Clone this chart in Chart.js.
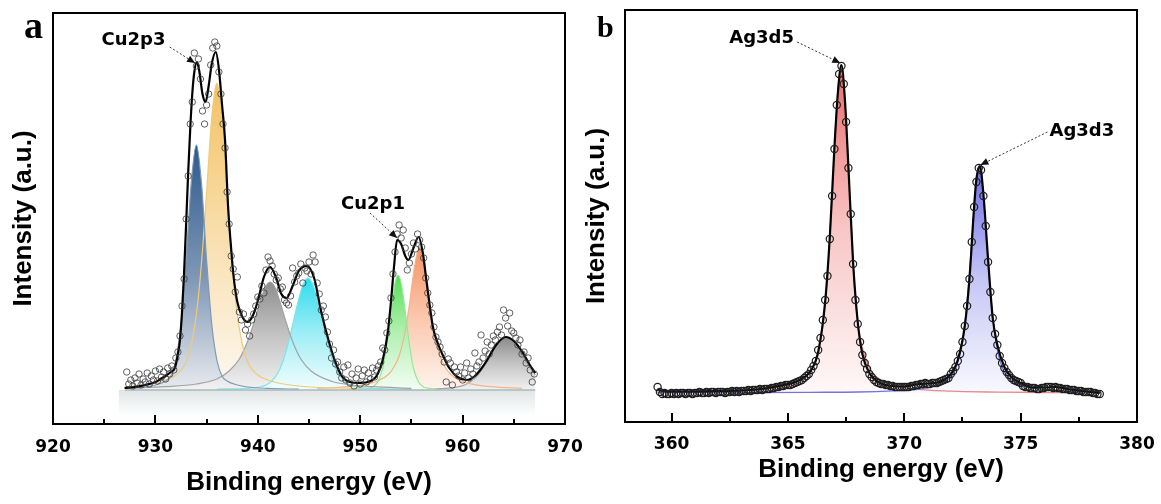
<!DOCTYPE html>
<html><head><meta charset="utf-8">
<script src="https://cdn.jsdelivr.net/npm/chart.js@4.4.1/dist/chart.umd.min.js"></script>
<style>
html,body{margin:0;padding:0;background:#fff;width:1161px;height:504px;overflow:hidden;}
#ca{position:absolute;left:0;top:0;}
#cb{position:absolute;left:580px;top:0;}
</style></head><body>
<canvas id="ca" width="600" height="504"></canvas>
<canvas id="cb" width="581" height="504"></canvas>
<script>
// ================= Panel a : Cu 2p =================
const aTicks = [920, 930, 940, 950, 960, 970];
const aMinorTicks = [925, 935, 945, 955, 965];
const aBaseline = 34;
const aBandFloor = 8;
const aBandE = [926.4, 967.1];
const aBaseE = [927.0, 967.1];
const aScanStart = 927.2, aScanStep = 0.2;
const aCounts = [
 52,40,44,38,46, 41,50,39,45,42, 51,40,48,44,53, 43,55,47,52,45,
 56,50,58,54,66, 72,88,118,145,205, 248,300,322,371,358, 365,345,313,300,319,
 330,359,376,382,378, 352,330,300,276,232, 200,168,155,132,147, 112,104,110,94,100,
 88,104,110,118,127, 125,138,131,154,167, 163,158,150,144,146, 135,137,124,121,119,
 128,156,142,148,151, 160,141,156,153,162, 150,169,162,141,130, 114,118,107,92,80,
 66,74,60,62,52, 46,57,44,59,41, 50,38,46,55,40, 48,54,42,51,45,
 56,47,54,58,62, 76,74,91,103,126, 150,172,190,199,186, 194,176,154,161,170,
 181,175,190,184,177, 166,146,131,119,111, 97,87,82,77,70, 62,42,65,61,39,
 57,52,48,57,44, 51,61,46,55,50, 71,58,62,89,66, 73,82,70,79,88,
 84,92,97,89,114, 106,98,111,93,91, 86,79,84,70,72, 61,66,54,42,50
];
const aFitE = [927.0,928.0,929.0,930.0,930.5,931.0,931.5,931.9,932.2,932.4,932.6,932.8,933.0,933.2,933.4,933.6,933.8,934.05,934.3,934.6,934.9,935.2,935.5,935.9,936.2,936.5,936.8,937.1,937.4,937.6,938.0,938.5,939.0,939.5,940.0,940.6,941.2,941.8,942.3,942.8,943.4,944.0,944.8,945.5,946.2,946.9,947.5,948.2,949.0,950.0,951.0,951.6,952.2,952.7,953.0,953.3,953.6,954.0,954.4,954.7,955.2,955.7,956.1,956.5,957.1,957.6,958.1,958.7,959.5,960.4,961.2,961.8,962.4,963.2,964.2,965.0,965.9,966.5,967.1];
const aFitV = [36,37,39,42,45,48,52,56,70,84,112,151,200,251,295,330,352,362,352,330,322,338,360,372,355,320,284,217,175,151,122,107,102,108,123,147,157,146,130,126,138,153,158,146,112,84,64,48,42,41,43,48,64,92,122,157,184,180,168,164,176,187,172,141,97,80,68,56,47,44,48,55,64,78,87,83,71,60,51];
const aBlueE = [927,929,930,931,931.5,932,932.5,933,933.5,934,934.5,935,935.5,936,936.5,937,938,939,941,944];
const aBlueV = [35.6,37,39,43,48,64,100,164,241,279,241,164,100,64,48,43,39,37,35.6,34.8];
const aYellowE = [927,928,930,931,932,933,933.5,934,934.5,935,935.5,936,936.5,937,937.5,938,938.5,939,940,941,942,944,946,948,950];
const aYellowV = [37,38,41,44,49,62,79,109,161,232,306,341,306,232,161,109,79,62,49,44,41,38,36.5,36,35.3];
const aGray1E = [927,931,934,936,937.2,938.2,939.2,939.7,940.2,940.7,941.2,941.7,942.2,942.7,943.2,943.7,944.2,945.2,947.2,949.2,951.2,955];
const aGray1V = [35.7,37.3,40,45,53,65,88,104,121,136,142,136,121,104,88,75,65,53,42.7,39,37.3,35.7];
const aCyanE = [936,939,940.9,941.9,942.4,942.9,943.4,943.9,944.4,944.9,945.4,945.9,946.4,946.9,947.4,947.9,948.9,949.9,952,955];
const aCyanV = [35,35.7,39.4,50,61,78,99,121,139,146,139,121,99,78,61,50,39.4,36.6,35.3,34.6];
const aGreenE = [949.7,950.7,951.2,951.7,952.2,952.45,952.7,952.95,953.2,953.45,953.7,953.95,954.2,954.45,954.7,954.95,955.2,955.7,956.2,956.7,957.7];
const aGreenV = [35,35.7,37,42,56,70,87.5,108,128,143,149,143,128,108,87.5,70,56,42,37,35.7,35];
const aOrangeE = [945.8,948.8,950.8,951.8,952.8,953.3,953.8,954.3,954.8,955.3,955.8,956.3,956.8,957.3,957.8,958.3,958.8,959.8,960.8,962.8,965.8];
const aOrangeV = [35.6,37.3,40.2,43.5,50,57,68,88,119,157,177,157,119,88,68,57,50,43.5,40.2,37.3,35.6];
const aGray2E = [957.3,958.3,959.3,960.3,961.3,961.8,962.3,962.8,963.3,963.8,964.3,964.8,965.3,965.8,966.3,966.8,967.1];
const aGray2V = [35.2,35.6,36.7,39.5,46.7,53,60.5,69,78,84.5,87,84.5,78,69,60.5,53,49];
const aNotes = [
  {text:'Cu2p3', tx:927.86, ty:384, sx:931.4, sy:377, ex:933.87, ey:361},
  {text:'Cu2p1', tx:951.25, ty:219.5, sx:950.96, sy:211, ex:953.6, ey:186}
];

// ================= Panel b : Ag 3d =================
const bTicks = [360, 365, 370, 375, 380];
const bMinorTicks = [362.5, 367.5, 372.5, 377.5];
const bBaseline = 29;
const bScanStart = 359.4, bScanStep = 0.1;
const bCounts = [
 35,30,28,29,28,28,29,
 28,29,28,29,29,28,29,29,28,29,
 29,30,29,29,30,29,30,30,29,30,
 30,30,29,30,30,31,30,31,30,31,
 31,31,32,31,32,32,32,33,32,33,
 33,33,34,34,35,35,36,36,37,37,
 37,38,39,40,41,42,44,46,48,52,
 56,61,72,84,102,122,146,183,226,273,
 317,348,356,338,300,254,208,158,122,98,
 80,67,59,53,48,45,42,40,39,38,
 38,37,37,36,36,35,35,35,35,35,
 35,35,36,36,37,37,38,38,39,38,
 38,39,39,39,40,41,42,43,44,48,
 51,55,61,68,80,96,116,143,180,215,
 240,254,252,226,196,160,130,104,88,77,
 66,59,54,50,47,44,42,41,40,39,
 36,35,35,34,34,34,33,33,34,34,
 35,35,35,34,35,34,34,33,33,33,
 32,32,32,31,31,31,30,30,30,30,
 29,29,28,28
];
const bFitE = [359.4,360,361,362,363,364,364.5,365,365.5,366,366.3,366.6,366.8,367,367.15,367.3,367.45,367.6,367.8,368,368.2,368.5,369,369.5,370,370.5,371,371.5,372,372.3,372.6,372.8,373,373.1,373.25,373.4,373.6,373.8,374,374.3,374.6,375,375.5,376,376.5,377,377.5,378,378.4];
const bFitV = [32,30.5,30.5,31,31.5,33.5,35.5,38,42,52,70,120,185,275,330,357,322,255,160,100,68,49,38.5,36,35.5,37.5,38.5,40,48,62,96,143,215,243,256,228,163,104,77,55,45,39,34.5,34.5,35,33,31.5,30,29];
const bAg5E = [359.4,361,362.5,364,365,365.5,366,366.3,366.5,366.7,366.9,367.1,367.28,367.45,367.65,367.85,368.05,368.3,368.6,369,369.5,370.5,372,374,376,378.4];
const bAg5V = [29.6,30,30.7,32.7,36.6,41,52,69,96,146,226,317,357,321,230,139,91,66,50,42,37,32.8,30.8,29.9,29.5,29.3];
const bAg3E = [359.4,363,366,368,369.5,370.5,371.3,371.8,372.2,372.5,372.7,372.9,373.05,373.22,373.4,373.55,373.75,373.95,374.2,374.5,375,375.8,377,378.4];
const bAg3V = [29.3,29.4,29.7,30,31.1,32.5,35.8,41.2,53,80,120,179,229,255,224,175,118,79,55,44,37,32.9,30.9,30];
const bNotes = [
  {text:'Ag3d5', tx:363.87, ty:383.5, sx:365.4, sy:380, ex:367.25, ey:359},
  {text:'Ag3d3', tx:377.63, ty:291, sx:376.15, sy:290, ex:373.27, ey:257}
];

// ================= helpers =================
const P = (xs, ys) => xs.map((x, i) => ({x: x, y: ys[i]}));
const scan = (start, step, vals) => vals.map((v, i) => ({x: +(start + i * step).toFixed(2), y: v}));

function grad(stops, base) {
  return (c) => {
    const ch = c.chart, area = ch.chartArea;
    if (!area || !c.dataset || !ch.scales.y) return stops[0][1];
    const ys = ch.scales.y;
    const top = ys.getPixelForValue(Math.max(...c.dataset.data.map(p => p.y)));
    const bot = ys.getPixelForValue(base);
    const g = ch.ctx.createLinearGradient(0, top, 0, bot);
    stops.forEach(([o, col]) => g.addColorStop(o, col));
    return g;
  };
}
function fillSet(xs, ys, stops, base, order) {
  return {data: P(xs, ys), showLine: true, fill: {value: base}, backgroundColor: grad(stops, base),
    borderColor: 'rgba(0,0,0,0)', borderWidth: 0, pointRadius: 0, cubicInterpolationMode: 'monotone', order: order};
}
function lineSet(xs, ys, color, width, order) {
  return {data: P(xs, ys), showLine: true, fill: false, borderColor: color, borderWidth: width,
    pointRadius: 0, cubicInterpolationMode: 'monotone', order: order};
}
function scatterSet(pts, r, bw, col, order) {
  return {data: pts, showLine: false, pointRadius: r, pointBorderWidth: bw, pointBorderColor: col,
    pointBackgroundColor: 'rgba(0,0,0,0)', order: order};
}

// per-chart decoration settings
const deco = {
  ca: {notes: aNotes, majors: aTicks, minors: aMinorTicks, label: 'a', labelX: 24, labelY: 38, labelFont: 'bold 38px "Liberation Serif"'},
  cb: {notes: bNotes, majors: bTicks, minors: bMinorTicks, label: 'b', labelX: 17, labelY: 37, labelFont: 'bold 30px "Liberation Serif"'}
};

const xpsPlugin = {
  id: 'xpsDeco',
  afterDatasetsDraw(chart) {
    const o = deco[chart.canvas.id];
    const {ctx, chartArea: a} = chart;
    const x = chart.scales.x, y = chart.scales.y;
    ctx.save();
    // annotations with dotted arrows
    o.notes.forEach(n => {
      const sx = x.getPixelForValue(n.sx), sy = y.getPixelForValue(n.sy);
      const ex = x.getPixelForValue(n.ex), ey = y.getPixelForValue(n.ey);
      ctx.strokeStyle = '#333'; ctx.lineWidth = 1; ctx.setLineDash([2, 2]);
      ctx.beginPath(); ctx.moveTo(sx, sy); ctx.lineTo(ex, ey); ctx.stroke();
      ctx.setLineDash([]);
      const ang = Math.atan2(ey - sy, ex - sx), L = 8, W = 3.5;
      const bx = ex - L * Math.cos(ang), by = ey - L * Math.sin(ang);
      ctx.beginPath(); ctx.moveTo(ex, ey);
      ctx.lineTo(bx + W * Math.sin(ang), by - W * Math.cos(ang));
      ctx.lineTo(bx - W * Math.sin(ang), by + W * Math.cos(ang));
      ctx.closePath(); ctx.fillStyle = '#111'; ctx.fill();
      ctx.fillStyle = '#000';
      ctx.font = 'bold 18px "DejaVu Sans"'; ctx.textAlign = 'center'; ctx.textBaseline = 'middle';
      ctx.fillText(n.text, x.getPixelForValue(n.tx), y.getPixelForValue(n.ty));
    });
    // frame
    ctx.strokeStyle = '#000'; ctx.lineWidth = 2;
    ctx.strokeRect(a.left, a.top, a.right - a.left, a.bottom - a.top);
    // inward tick marks on the bottom axis
    ctx.lineWidth = 2;
    const tick = (v, len) => {
      if (v <= x.min || v >= x.max) return;
      const px = Math.round(x.getPixelForValue(v));
      ctx.beginPath(); ctx.moveTo(px, a.bottom); ctx.lineTo(px, a.bottom - len); ctx.stroke();
    };
    o.majors.forEach(v => tick(v, 9));
    o.minors.forEach(v => tick(v, 5));
    // panel letter
    ctx.fillStyle = '#000';
    ctx.font = o.labelFont; ctx.textAlign = 'left'; ctx.textBaseline = 'alphabetic';
    ctx.fillText(o.label, o.labelX, o.labelY);
    ctx.restore();
  }
};

function scalesFor(cfg) {
  return {
    x: {type: 'linear', min: cfg.xmin, max: cfg.xmax,
      afterBuildTicks: s => { s.ticks = cfg.ticks.map(t => ({value: t})); },
      afterFit: s => { s.height = cfg.xHeight; s.paddingLeft = 0; s.paddingRight = 0; },
      grid: {display: false, drawTicks: false}, border: {display: false},
      ticks: {color: '#000', font: {family: '"DejaVu Sans"', size: 17, weight: 'bold'}, padding: cfg.tickPad, maxRotation: 0, autoSkip: false},
      title: {display: true, text: 'Binding energy (eV)', color: '#000',
        font: {family: '"Liberation Sans"', size: 26, weight: 'bold'}, padding: {top: 0, bottom: cfg.xTitlePad}}
    },
    y: {min: 0, max: cfg.ymax,
      afterFit: s => { s.width = cfg.yWidth; },
      grid: {display: false, drawTicks: false}, border: {display: false}, ticks: {display: false},
      title: {display: true, text: 'Intensity (a.u.)', color: '#000',
        font: {family: '"Liberation Sans"', size: 26, weight: 'bold'}, padding: {top: cfg.yTitlePad, bottom: 0}}
    }
  };
}

// ================= Chart a =================
new Chart(document.getElementById('ca'), {
  type: 'scatter',
  data: {datasets: [
    scatterSet(scan(aScanStart, aScanStep, aCounts), 3.2, 0.8, '#3a3a3a', 0),
    lineSet(aFitE, aFitV, '#000', 2.2, 1),
    lineSet(aBaseE, [aBaseline, aBaseline], '#a9b9ba', 1.6, 2),
    lineSet(aBlueE, aBlueV, '#7f98b6', 1.2, 3),
    lineSet(aYellowE, aYellowV, '#efcb78', 1.2, 4),
    lineSet(aGray1E, aGray1V, '#a2a2a2', 1.2, 5),
    lineSet(aCyanE, aCyanV, '#7ee4ec', 1.2, 6),
    lineSet(aGreenE, aGreenV, '#98e698', 1.2, 7),
    lineSet(aOrangeE, aOrangeV, '#f2b48a', 1.2, 8),
    lineSet(aGray2E, aGray2V, '#a4a4a4', 1.2, 9),
    fillSet(aGreenE, aGreenV, [[0,'#55df55'],[0.5,'#b2f0b2'],[1,'#f4fdf4']], aBaseline, 11),
    fillSet(aGray2E, aGray2V, [[0,'#8a8a8a'],[0.5,'#c4c4c4'],[1,'#f2f2f2']], aBaseline, 12),
    fillSet(aOrangeE, aOrangeV, [[0,'#f69264'],[0.5,'#fbc8ae'],[1,'#fff4ee']], aBaseline, 13),
    fillSet(aCyanE, aCyanV, [[0,'#2cdcee'],[0.5,'#a0eef6'],[1,'#f2fdfe']], aBaseline, 14),
    fillSet(aGray1E, aGray1V, [[0,'#8e8e8e'],[0.5,'#c4c4c4'],[1,'#f2f2f2']], aBaseline, 15),
    fillSet(aBlueE, aBlueV, [[0,'#2c5a8e'],[0.55,'#8198b6'],[1,'#e8ebef']], aBaseline, 16),
    fillSet(aYellowE, aYellowV, [[0,'#f3c262'],[0.5,'#f9dfae'],[1,'#fdf8f0']], aBaseline, 17),
    fillSet(aBandE, [aBaseline, aBaseline], [[0,'#e0e5e6'],[1,'#ffffff']], aBandFloor, 20)
  ]},
  options: {
    responsive: false, animation: false, events: [],
    layout: {padding: {left: 0, top: 13, right: 35, bottom: 0}},
    plugins: {legend: {display: false}, tooltip: {enabled: false}},
    scales: scalesFor({xmin: 920, xmax: 970, ymax: 411, ticks: aTicks, xHeight: 80, yWidth: 53, tickPad: 13, xTitlePad: 5.5, yTitlePad: 8.4})
  },
  plugins: [xpsPlugin]
});

// ================= Chart b =================
new Chart(document.getElementById('cb'), {
  type: 'scatter',
  data: {datasets: [
    scatterSet(scan(bScanStart, bScanStep, bCounts), 3.6, 1.2, '#1e1e1e', 0),
    lineSet(bFitE, bFitV, '#000', 2.2, 1),
    lineSet(bAg3E, bAg3V, '#7474de', 1.3, 3),
    lineSet(bAg5E, bAg5V, '#e68c8c', 1.3, 4),
    fillSet(bAg3E, bAg3V, [[0,'#6e6ee8'],[0.5,'#c6c6f6'],[1,'#f9f9ff']], bBaseline, 11),
    fillSet(bAg5E, bAg5V, [[0,'#ec6a6a'],[0.5,'#f8c6c6'],[1,'#fff8f8']], bBaseline, 12)
  ]},
  options: {
    responsive: false, animation: false, events: [],
    layout: {padding: {left: 0, top: 10, right: 24, bottom: 0}},
    plugins: {legend: {display: false}, tooltip: {enabled: false}},
    scales: scalesFor({xmin: 358, xmax: 380, ymax: 412, ticks: bTicks, xHeight: 82, yWidth: 45, tickPad: 12, xTitlePad: 19, yTitlePad: 1.4})
  },
  plugins: [xpsPlugin]
});
</script></body></html>
